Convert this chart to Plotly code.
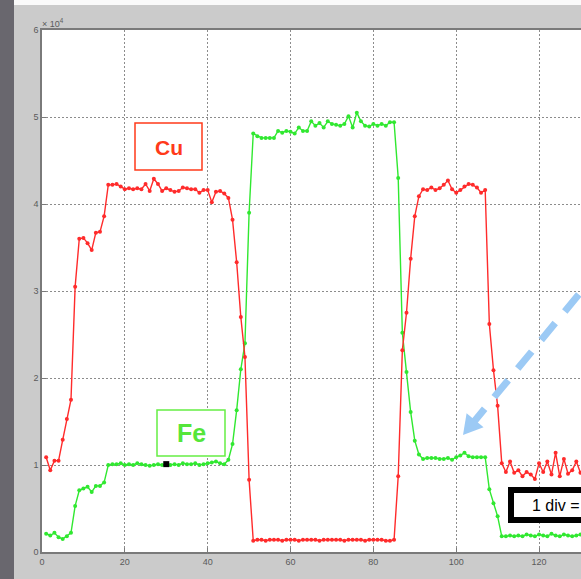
import plotly.graph_objects as go

# ---- data (values in units of 10^4) ----
sample_index = list(range(1, 131))

cu_counts = [
    1.09, 0.94, 1.05, 1.05, 1.29, 1.53, 1.75, 3.05, 3.60, 3.61,
    3.55, 3.47, 3.67, 3.68, 3.86, 4.22, 4.22, 4.23, 4.20, 4.17,
    4.18, 4.17, 4.18, 4.17, 4.23, 4.15, 4.29, 4.23, 4.15, 4.18,
    4.16, 4.14, 4.15, 4.19, 4.18, 4.17, 4.17, 4.13, 4.16, 4.16,
    4.02, 4.14, 4.15, 4.12, 4.07, 3.82, 3.33, 2.70, 2.24, 0.83,
    0.13, 0.14, 0.14, 0.13, 0.14, 0.14, 0.14, 0.13, 0.14, 0.14,
    0.14, 0.13, 0.14, 0.14, 0.14, 0.14, 0.13, 0.14, 0.14, 0.14,
    0.14, 0.14, 0.13, 0.14, 0.14, 0.14, 0.14, 0.13, 0.14, 0.14,
    0.14, 0.14, 0.13, 0.13, 0.14, 0.87, 2.32, 2.75, 3.37, 3.86,
    4.09, 4.17, 4.16, 4.19, 4.16, 4.18, 4.22, 4.27, 4.17, 4.13,
    4.16, 4.20, 4.23, 4.22, 4.19, 4.13, 4.16, 2.62, 2.09, 1.68,
    1.02, 0.92, 1.04, 0.91, 0.94, 0.87, 0.92, 0.89, 0.84, 1.02,
    0.92, 1.04, 0.89, 1.14, 0.87, 1.07, 0.90, 0.94, 1.04, 0.91,
]

fe_counts = [
    0.21, 0.19, 0.22, 0.17, 0.15, 0.18, 0.22, 0.53, 0.71, 0.73,
    0.75, 0.69, 0.76, 0.76, 0.80, 1.00, 1.01, 1.01, 1.02, 1.00,
    1.01, 1.00, 1.02, 1.01, 1.00, 0.99, 1.00, 1.01, 1.00, 1.01,
    1.00, 1.01, 1.00, 1.02, 1.01, 1.01, 1.02, 1.00, 1.01, 1.02,
    1.03, 1.04, 1.02, 1.01, 1.06, 1.24, 1.63, 2.10, 2.40, 3.90,
    4.81, 4.78, 4.76, 4.76, 4.76, 4.76, 4.84, 4.82, 4.84, 4.83,
    4.81, 4.88, 4.84, 4.84, 4.95, 4.90, 4.93, 4.88, 4.95, 4.92,
    4.91, 4.90, 4.92, 5.01, 4.88, 5.05, 4.95, 4.90, 4.89, 4.92,
    4.90, 4.92, 4.90, 4.94, 4.94, 4.30, 2.52, 2.07, 1.61, 1.28,
    1.12, 1.07, 1.08, 1.08, 1.08, 1.07, 1.07, 1.08, 1.06, 1.09,
    1.11, 1.14, 1.10, 1.09, 1.09, 1.09, 1.09, 0.72, 0.56, 0.41,
    0.18, 0.18, 0.19, 0.18, 0.19, 0.18, 0.20, 0.19, 0.18, 0.20,
    0.19, 0.18, 0.21, 0.19, 0.18, 0.20, 0.19, 0.18, 0.19, 0.20,
]

marked_x = [30]
marked_y = [1.01]

x_ticks = [0, 20, 40, 60, 80, 100, 120]
y_ticks = [0, 1, 2, 3, 4, 5, 6]

# ---- layout geometry (pixels) ----
W, H = 581, 579
L, R, T, B = 42, 581, 30, 552


def px(x):
    return (x - L) / (R - L)


def py(y):
    return (B - y) / (B - T)


RED = "#ff2b2b"
GREEN = "#30e830"
GRID = "#8c8c8c"
AX = "#7a7a7a"
TXT = "#5a5a5a"

fig = go.Figure()
fig.add_trace(go.Scatter(
    x=sample_index, y=fe_counts, mode="lines+markers",
    line=dict(color=GREEN, width=1.4), marker=dict(color=GREEN, size=4),
    showlegend=False, hoverinfo="skip"))
fig.add_trace(go.Scatter(
    x=sample_index, y=cu_counts, mode="lines+markers",
    line=dict(color=RED, width=1.4), marker=dict(color=RED, size=4),
    showlegend=False, hoverinfo="skip"))
fig.add_trace(go.Scatter(
    x=marked_x, y=marked_y, mode="markers",
    marker=dict(color="black", size=6, symbol="square"),
    showlegend=False, hoverinfo="skip"))

shapes = []
# frame decoration
shapes.append(dict(type="rect", xref="paper", yref="paper", layer="below",
                   x0=px(0), x1=px(14), y0=py(579), y1=py(0),
                   fillcolor="#69676e", line=dict(width=0)))
shapes.append(dict(type="rect", xref="paper", yref="paper", layer="below",
                   x0=px(14), x1=px(581), y0=py(5), y1=py(0),
                   fillcolor="#fafafa", line=dict(width=0)))

# Cu box
shapes.append(dict(type="rect", xref="paper", yref="paper",
                   x0=px(135), x1=px(202), y0=py(170), y1=py(123),
                   fillcolor="white", line=dict(color="#ff3a1a", width=1.5)))
# Fe box
shapes.append(dict(type="rect", xref="paper", yref="paper",
                   x0=px(157), x1=px(225), y0=py(456), y1=py(410),
                   fillcolor="white", line=dict(color="#66ee44", width=1.5)))

# dashed light-blue arrow
tip = (463.0, 435.0)
u = (-0.636, 0.772)
s0, s1 = 219.0, 14.0
shapes.append(dict(type="line", xref="paper", yref="paper",
                   x0=px(tip[0] - s0 * u[0]), y0=py(tip[1] - s0 * u[1]),
                   x1=px(tip[0] - s1 * u[0]), y1=py(tip[1] - s1 * u[1]),
                   line=dict(color="#9ccaf5", width=7, dash="22px,15px")))
hl, hw = 19.0, 11.0
bx, by = tip[0] - hl * u[0], tip[1] - hl * u[1]
nx, ny = -u[1], u[0]
pts = [tip, (bx + hw * nx, by + hw * ny), (bx - hw * nx, by - hw * ny)]
path = "M {} {} L {} {} L {} {} Z".format(*[v for p in pts for v in (px(p[0]), py(p[1]))])
shapes.append(dict(type="path", xref="paper", yref="paper", path=path,
                   fillcolor="#9ccaf5", line=dict(width=0)))

# "1 div =" box
shapes.append(dict(type="rect", xref="paper", yref="paper",
                   x0=px(511), x1=px(600), y0=py(520), y1=py(490),
                   fillcolor="white", line=dict(color="black", width=6)))

annotations = [
    dict(x=px(168.5), y=py(147), xref="paper", yref="paper", text="<b>Cu</b>",
         xanchor="center", yanchor="middle", showarrow=False,
         font=dict(family="Liberation Sans", size=21, color="#ff3a1a")),
    dict(x=px(191), y=py(433), xref="paper", yref="paper", text="<b>Fe</b>",
         xanchor="center", yanchor="middle", showarrow=False,
         font=dict(family="Liberation Sans", size=25, color="#55e63a")),
    dict(x=px(530), y=py(505), xref="paper", yref="paper", text="1 div =",
         xanchor="left", yanchor="middle", showarrow=False,
         font=dict(family="Liberation Sans", size=16, color="black")),
    dict(x=px(40), y=py(23), xref="paper", yref="paper", text="× 10<sup>4</sup>",
         xanchor="left", yanchor="middle", showarrow=False,
         font=dict(family="Liberation Sans", size=9, color=TXT)),
]

fig.update_layout(
    width=W, height=H,
    margin=dict(l=L, r=W - R, t=T, b=H - B, pad=0),
    paper_bgcolor="#cbcbcb", plot_bgcolor="white",
    shapes=shapes, annotations=annotations,
    font=dict(family="Liberation Sans", size=9, color=TXT),
)
fig.update_xaxes(
    range=[0, (R - L) / 4.142], tickvals=x_ticks, ticktext=[str(v) for v in x_ticks],
    showgrid=True, gridcolor=GRID, griddash="2px,2px", gridwidth=1,
    showline=True, linecolor=AX, linewidth=1.5, mirror=True,
    ticks="inside", ticklen=4, tickcolor=AX, zeroline=False,
    tickfont=dict(size=9, color=TXT))
fig.update_yaxes(
    range=[0, 6], tickvals=y_ticks, ticktext=[str(v) for v in y_ticks],
    showgrid=True, gridcolor=GRID, griddash="2px,2px", gridwidth=1,
    showline=True, linecolor=AX, linewidth=1.5,
    ticks="inside", ticklen=4, tickcolor=AX, zeroline=False,
    tickfont=dict(size=9, color=TXT))

fig.write_html(
    "out.html",
    config={"displayModeBar": False},
    post_script="document.body.style.margin='0';document.body.style.overflow='hidden';",
)
